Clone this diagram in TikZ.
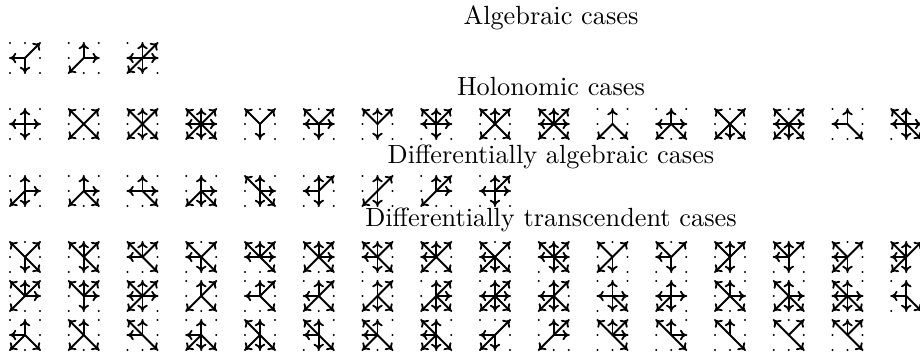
\documentclass[tikz,border=0pt]{standalone}
\usetikzlibrary{arrows.meta}

% one small step set: dots on a 3x3 grid, arrows from the middle
\newcommand{\stepset}[3]{%
  \foreach \gx in {-1,0,1}{\foreach \gy in {-1,0,1}{%
    \fill ({25+(#1-1)*58.75+\gx*15},{#2+\gy*15}) circle[radius=0.4pt];}}
  \foreach \dx/\dy in {#3}{%
    \draw[move] ({25+(#1-1)*58.75},#2) -- ++({\dx*15},{\dy*15});}}

\begin{document}
\begin{tikzpicture}[
  x=0.3802pt, y=0.3802pt,
  move/.style={-{To[length=2.4pt,width=4pt]}, line width=0.7pt},
  title/.style={anchor=base, inner sep=0pt},
]
  \useasboundingbox (0,0) rectangle (920,-354);

  % Algebraic cases
  \node[title] (alg) at (551,-24) {Algebraic cases};
  \stepset{1}{-58}{1/1,-1/0,0/-1}
  \stepset{2}{-58}{0/1,1/0,-1/-1}
  \stepset{3}{-58}{0/1,1/1,1/0,0/-1,-1/-1,-1/0}

  % Holonomic cases
  \node[title] (hol) at (551,-95) {Holonomic cases};
  \stepset{1}{-124}{0/1,1/0,0/-1,-1/0}
  \stepset{2}{-124}{1/1,-1/1,1/-1,-1/-1}
  \stepset{3}{-124}{0/1,0/-1,1/1,-1/1,1/-1,-1/-1}
  \stepset{4}{-124}{0/1,1/1,1/0,1/-1,0/-1,-1/-1,-1/0,-1/1}
  \stepset{5}{-124}{-1/1,1/1,0/-1}
  \stepset{6}{-124}{-1/1,1/1,-1/0,1/0,0/-1}
  \stepset{7}{-124}{-1/1,0/1,1/1,0/-1}
  \stepset{8}{-124}{-1/1,0/1,1/1,-1/0,1/0,0/-1}
  \stepset{9}{-124}{-1/1,0/1,1/1,-1/-1,1/-1}
  \stepset{10}{-124}{-1/1,0/1,1/1,-1/0,1/0,-1/-1,1/-1}
  \stepset{11}{-124}{0/1,-1/-1,1/-1}
  \stepset{12}{-124}{0/1,-1/0,1/0,-1/-1,1/-1}
  \stepset{13}{-124}{-1/1,1/1,-1/-1,0/-1,1/-1}
  \stepset{14}{-124}{-1/1,1/1,-1/0,1/0,-1/-1,0/-1,1/-1}
  \stepset{15}{-124}{0/1,-1/0,1/-1}
  \stepset{16}{-124}{0/1,-1/0,1/-1,0/-1,1/0,-1/1}

  % Differentially algebraic cases
  \node[title] (dalg) at (551,-163) {Differentially algebraic cases};
  \stepset{1}{-191}{0/1,1/0,0/-1,-1/-1}
  \stepset{2}{-191}{0/1,1/0,-1/-1,1/-1}
  \stepset{3}{-191}{0/1,-1/0,1/0,1/-1}
  \stepset{4}{-191}{0/1,1/0,-1/-1,0/-1,1/-1}
  \stepset{5}{-191}{-1/1,0/1,1/0,0/-1,1/-1}
  \stepset{6}{-191}{0/1,1/1,-1/0,0/-1}
  \stepset{7}{-191}{0/1,1/1,-1/-1,0/-1}
  \stepset{8}{-191}{0/1,1/1,1/0,-1/-1}
  \stepset{9}{-191}{0/1,1/1,-1/0,1/0,0/-1}

  % Differentially transcendent cases
  \node[title] (dtr) at (551,-226) {Differentially transcendent cases};
  \stepset{1}{-257}{-1/1,1/1,0/-1,1/-1}
  \stepset{2}{-257}{-1/1,0/1,1/1,0/-1,1/-1}
  \stepset{3}{-257}{-1/1,0/1,1/1,-1/0,1/-1}
  \stepset{4}{-257}{-1/1,1/1,-1/0,0/-1,1/-1}
  \stepset{5}{-257}{-1/1,0/1,1/1,-1/0,1/0,1/-1}
  \stepset{6}{-257}{-1/1,0/1,1/1,1/0,-1/-1,1/-1}
  \stepset{7}{-257}{-1/1,0/1,1/1,-1/0,0/-1,1/-1}
  \stepset{8}{-257}{-1/1,0/1,1/1,-1/0,-1/-1,1/-1}
  \stepset{9}{-257}{-1/1,1/1,-1/0,-1/-1,0/-1,1/-1}
  \stepset{10}{-257}{-1/1,0/1,1/1,-1/0,1/0,0/-1,1/-1}
  \stepset{11}{-257}{-1/1,1/1,-1/-1,0/-1}
  \stepset{12}{-257}{-1/1,1/1,-1/0,0/-1}
  \stepset{13}{-257}{-1/1,0/1,1/1,-1/-1,0/-1}
  \stepset{14}{-257}{-1/1,0/1,1/1,-1/0,0/-1}
  \stepset{15}{-257}{-1/1,1/1,-1/0,-1/-1,0/-1}
  \stepset{16}{-257}{-1/1,0/1,1/1,-1/0,-1/-1,0/-1}

  \stepset{1}{-296}{-1/1,0/1,1/1,1/0,-1/-1}
  \stepset{2}{-296}{-1/1,0/1,1/1,1/0,0/-1}
  \stepset{3}{-296}{-1/1,0/1,1/1,-1/0,1/0,-1/-1,0/-1}
  \stepset{4}{-296}{0/1,1/1,-1/-1,1/-1}
  \stepset{5}{-296}{0/1,1/1,-1/0,1/-1}
  \stepset{6}{-296}{0/1,1/1,-1/0,-1/-1,1/-1}
  \stepset{7}{-296}{0/1,1/1,-1/-1,0/-1,1/-1}
  \stepset{8}{-296}{0/1,1/1,1/0,-1/-1,0/-1,1/-1}
  \stepset{9}{-296}{0/1,1/1,-1/0,1/0,-1/-1,0/-1,1/-1}
  \stepset{10}{-296}{0/1,1/1,-1/0,-1/-1,0/-1,1/-1}
  \stepset{11}{-296}{0/1,-1/0,1/0,0/-1,1/-1}
  \stepset{12}{-296}{0/1,-1/0,1/0,-1/-1,0/-1}
  \stepset{13}{-296}{-1/1,0/1,1/0,-1/-1,1/-1}
  \stepset{14}{-296}{-1/1,0/1,1/0,-1/-1,0/-1,1/-1}
  \stepset{15}{-296}{-1/1,0/1,-1/0,1/0,-1/-1,0/-1,1/-1}
  \stepset{16}{-296}{0/1,-1/0,0/-1,1/-1}

  \stepset{1}{-335}{0/1,-1/0,-1/-1,1/-1}
  \stepset{2}{-335}{-1/1,0/1,-1/-1,1/-1}
  \stepset{3}{-335}{-1/1,0/1,-1/0,1/-1}
  \stepset{4}{-335}{0/1,-1/0,-1/-1,0/-1,1/-1}
  \stepset{5}{-335}{-1/1,0/1,-1/-1,0/-1,1/-1}
  \stepset{6}{-335}{-1/1,0/1,-1/0,0/-1,1/-1}
  \stepset{7}{-335}{-1/1,0/1,-1/0,-1/-1,1/-1}
  \stepset{8}{-335}{-1/1,0/1,-1/0,-1/-1,0/-1,1/-1}
  \stepset{9}{-335}{1/1,-1/0,-1/-1,0/-1}
  \stepset{10}{-335}{0/1,1/1,1/0,-1/-1}
  \stepset{11}{-335}{-1/1,0/1,1/1,1/0,1/-1}
  \stepset{12}{-335}{-1/1,0/1,1/0,1/-1}
  \stepset{13}{-335}{-1/1,0/1,1/-1}
  \stepset{14}{-335}{-1/1,1/1,1/-1}
  \stepset{15}{-335}{-1/1,0/1,1/1,1/-1}
\end{tikzpicture}
\end{document}
